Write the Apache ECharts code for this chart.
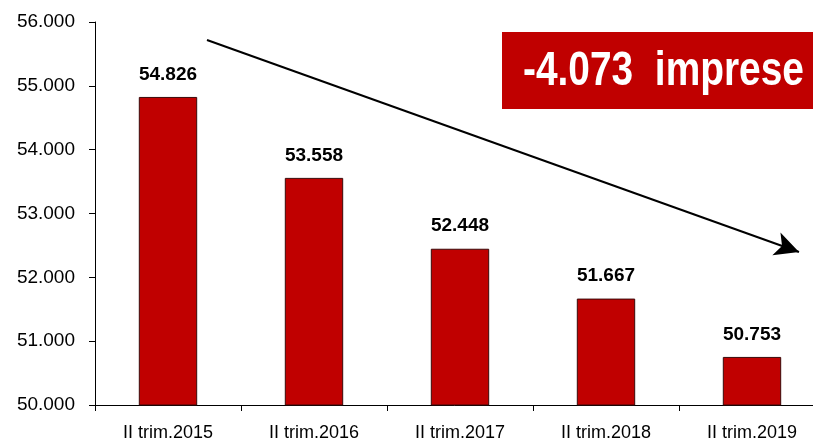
<!DOCTYPE html>
<html>
<head>
<meta charset="utf-8">
<script src="https://cdn.jsdelivr.net/npm/echarts@6/dist/echarts.min.js"></script>
<style>
  html, body { margin: 0; padding: 0; background: #fff; }
  #chart { width: 813px; height: 445px; }
</style>
</head>
<body>
<div id="chart"></div>
<script>
const categories = ['II trim.2015', 'II trim.2016', 'II trim.2017', 'II trim.2018', 'II trim.2019']
const imprese = [54826, 53558, 52448, 51667, 50753]
const boxText = '-4.073  imprese'

const FONT = '"Liberation Sans", Arial, sans-serif'
// formato italiano: 54826 -> 54.826
const fmt = v => String(v).replace(/\B(?=(\d{3})+(?!\d))/g, '.')

const chart = echarts.init(document.getElementById('chart'))
chart.setOption({
    animation: false,
    grid: { left: 95, right: -12, top: 22, bottom: 40, outerBoundsMode: 'none' },
    xAxis: {
        type: 'category',
        data: categories,
        axisLine: { lineStyle: { color: '#000', width: 1 } },
        axisTick: { show: true, length: 6, lineStyle: { color: '#000' } },
        axisLabel: { color: '#000', fontFamily: FONT, fontSize: 18, margin: 19 }
    },
    yAxis: {
        type: 'value',
        min: 50000,
        max: 56000,
        interval: 1000,
        splitLine: { show: false },
        axisLine: { show: true, lineStyle: { color: '#000', width: 1 } },
        axisTick: { show: true, length: 6, lineStyle: { color: '#000' } },
        axisLabel: { color: '#000', fontFamily: FONT, fontSize: 19, margin: 20, formatter: fmt }
    },
    series: [{
        type: 'bar',
        data: imprese,
        barWidth: '40%',
        itemStyle: { color: '#C00000', borderColor: '#3a0a0a', borderWidth: 1 },
        label: {
            show: true,
            position: 'top',
            distance: 13,
            color: '#000',
            fontFamily: FONT,
            fontWeight: 'bold',
            fontSize: 19,
            formatter: p => fmt(p.value)
        },
        // freccia di tendenza
        markLine: {
            silent: true,
            symbol: ['none', 'arrow'],
            symbolSize: [18, 24],
            label: { show: false },
            lineStyle: { color: '#000', width: 2, type: 'solid' },
            data: [[{ x: 207, y: 40 }, { x: 799, y: 252 }]]
        }
    }],
    graphic: [{
        type: 'rect',
        shape: { x: 502, y: 32, width: 320, height: 77 },
        style: { fill: '#C00000' },
        z: 10
    }, {
        type: 'text',
        x: 523,
        y: 72,
        scaleX: 0.81,
        style: {
            text: boxText,
            fill: '#fff',
            font: 'bold 48px ' + FONT,
            textVerticalAlign: 'middle'
        },
        z: 11
    }]
})
</script>
</body>
</html>
